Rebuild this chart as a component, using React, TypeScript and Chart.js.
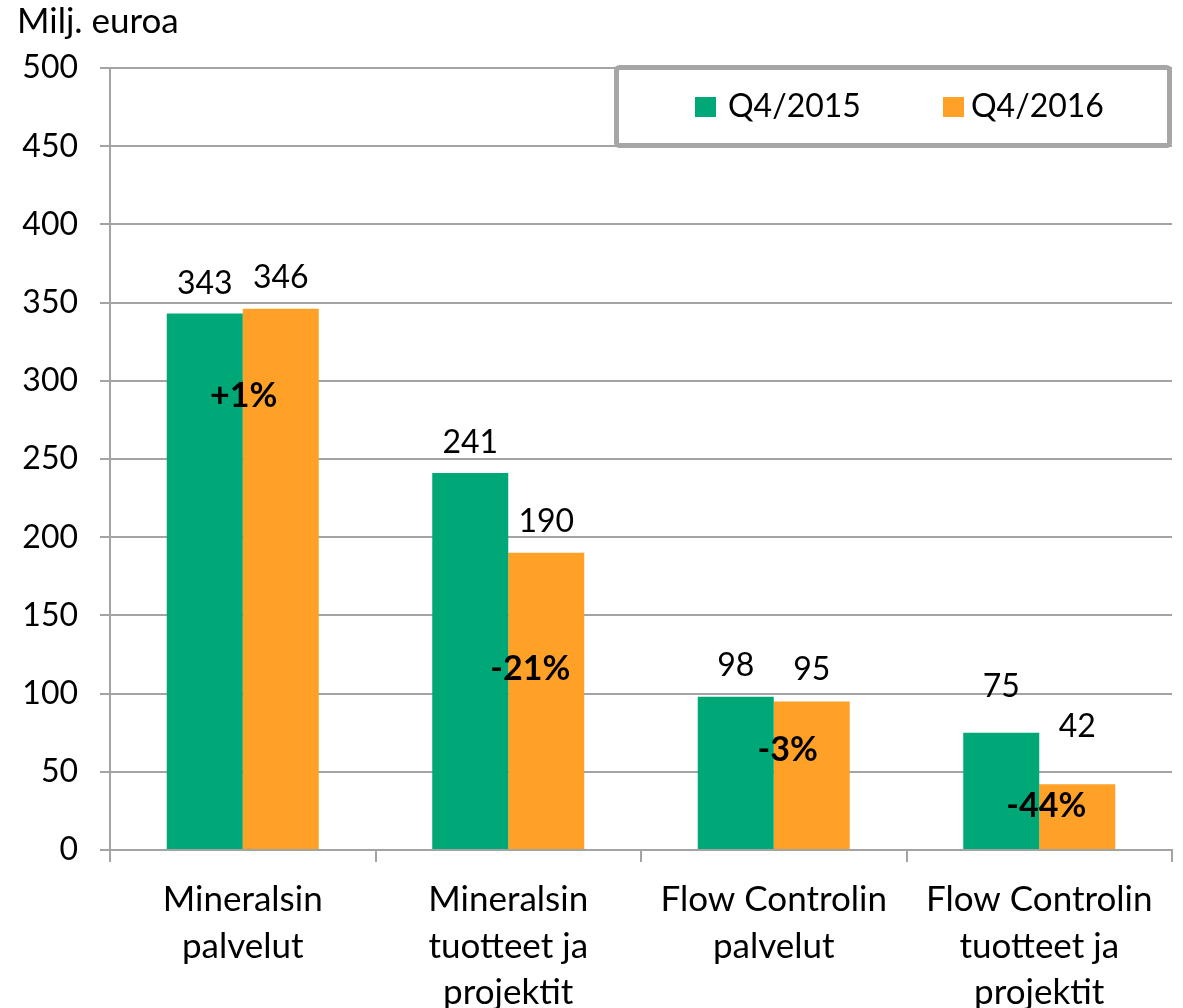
import React, { useEffect, useRef } from "react";
import { Chart, registerables } from "chart.js";

Chart.register(...registerables);

const categories: string[][] = [
  ["Mineralsin", "palvelut"],
  ["Mineralsin", "tuotteet ja", "projektit"],
  ["Flow Controlin", "palvelut"],
  ["Flow Controlin", "tuotteet ja", "projektit"],
];
const seriesNames = ["Q4/2015", "Q4/2016"];
const values2015 = [343, 241, 98, 75];
const values2016 = [346, 190, 95, 42];
const changeLabels = ["+1%", "-21%", "-3%", "-44%"];
const changeLabelAt = [290, 116, 64, 28];
const yTicks = [0, 50, 100, 150, 200, 250, 300, 350, 400, 450, 500];
const axisTitle = "Milj. euroa";

const GREEN = "#00A878";
const ORANGE = "#FFA126";
const GRID = "#a3a3a3";
const FONT = "Lato, 'Open Sans', sans-serif";

// pixel gaps (styling) between value label baseline and bar top
const labelGap = [
  [20, 20, 21, 36],
  [21, 21, 21, 47],
];
const changeDx = [1, 22, 14, 7];

const overlayPlugin = {
  id: "overlay",
  afterDatasetsDraw(chart: any) {
    const ctx = chart.ctx;
    ctx.save();
    ctx.fillStyle = "#000";
    ctx.textAlign = "center";
    ctx.textBaseline = "alphabetic";
    ctx.font = `32px ${FONT}`;
    chart.data.datasets.forEach((ds: any, di: number) => {
      const meta = chart.getDatasetMeta(di);
      meta.data.forEach((bar: any, i: number) => {
        ctx.fillText(String(ds.data[i]), bar.x, bar.y - labelGap[di][i]);
      });
    });
    const yScale = chart.scales.y;
    const xScale = chart.scales.x;
    ctx.font = `bold 34px ${FONT}`;
    ctx.textBaseline = "middle";
    changeLabels.forEach((t, i) => {
      const x = xScale.getPixelForValue(i) + changeDx[i];
      const y = yScale.getPixelForValue(changeLabelAt[i]);
      ctx.fillText(t, x, y);
    });
    ctx.restore();
  },
  afterDraw(chart: any) {
    const ctx = chart.ctx;
    ctx.save();
    ctx.fillStyle = "#000";
    ctx.font = `35px ${FONT}`;
    ctx.textAlign = "left";
    ctx.textBaseline = "alphabetic";
    ctx.fillText(axisTitle, 17, 33);
    ctx.fillStyle = "#fff";
    ctx.strokeStyle = "#a6a6a6";
    ctx.lineWidth = 5;
    const bx = 616.5, by = 67.5, bw = 553, bh = 78;
    ctx.beginPath();
    if ((ctx as any).roundRect) (ctx as any).roundRect(bx, by, bw, bh, 3);
    else ctx.rect(bx, by, bw, bh);
    ctx.fill();
    ctx.stroke();
    const items = [
      { sx: 695, tx: 728 },
      { sx: 943, tx: 971 },
    ];
    chart.data.datasets.forEach((ds: any, di: number) => {
      const it = items[di];
      ctx.fillStyle = ds.backgroundColor;
      ctx.fillRect(it.sx, 97, 21, 20);
      ctx.fillStyle = "#000";
      ctx.font = `32px ${FONT}`;
      ctx.textAlign = "left";
      ctx.textBaseline = "alphabetic";
      ctx.fillText(ds.label, it.tx, 117);
    });
    ctx.restore();
  },
};

export default function App() {
  const ref = useRef<HTMLCanvasElement | null>(null);
  useEffect(() => {
    if (!ref.current) return;
    const chart = new Chart(ref.current, {
      type: "bar",
      data: {
        labels: categories,
        datasets: [
          {
            label: seriesNames[0],
            data: values2015,
            backgroundColor: GREEN,
            borderWidth: 0,
            categoryPercentage: 0.5725,
            barPercentage: 1,
          },
          {
            label: seriesNames[1],
            data: values2016,
            backgroundColor: ORANGE,
            borderWidth: 0,
            categoryPercentage: 0.5725,
            barPercentage: 1,
          },
        ],
      },
      options: {
        responsive: false,
        animation: false,
        devicePixelRatio: 1,
        layout: { padding: { top: 68, right: 11, left: 0, bottom: 0 } },
        plugins: {
          legend: { display: false },
          tooltip: { enabled: false },
          title: { display: false },
        },
        scales: {
          x: {
            grid: {
              display: true,
              offset: true,
              drawOnChartArea: false,
              drawTicks: true,
              tickLength: 12,
              color: GRID,
              lineWidth: 2,
            },
            border: { display: true, color: GRID, width: 2 },
            ticks: {
              color: "#000",
              font: { family: FONT, size: 35, lineHeight: 1.32 },
              padding: 15,
              maxRotation: 0,
              autoSkip: false,
            },
            afterFit: (s: any) => {
              s.height = 158;
            },
          },
          y: {
            min: 0,
            max: 500,
            afterBuildTicks: (s: any) => {
              s.ticks = yTicks.map((v) => ({ value: v }));
            },
            grid: {
              color: GRID,
              lineWidth: 2,
              drawTicks: true,
              tickLength: 10,
            },
            border: { display: true, color: GRID, width: 2 },
            ticks: {
              color: "#000",
              font: { family: FONT, size: 32 },
              padding: 22,
            },
            afterFit: (s: any) => {
              s.width = 110;
            },
          },
        },
      },
      plugins: [overlayPlugin],
    });
    return () => chart.destroy();
  }, []);
  return (
    <div style={{ position: "absolute", left: 0, top: 0, width: 1183, height: 1008, background: "#fff" }}>
      <canvas ref={ref} width={1183} height={1008} style={{ display: "block" }} />
    </div>
  );
}
